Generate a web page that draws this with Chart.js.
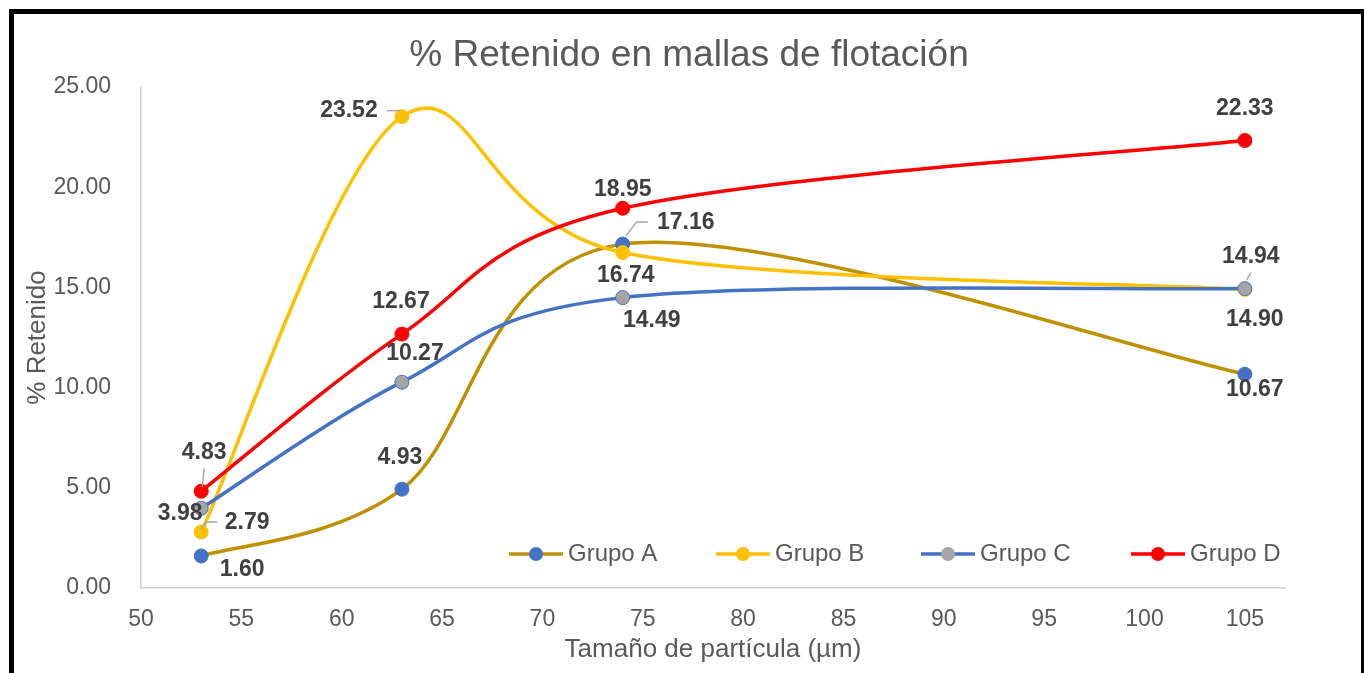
<!DOCTYPE html>
<html>
<head>
<meta charset="utf-8">
<script src="https://cdn.jsdelivr.net/npm/chart.js@4"></script>
<style>
  body { margin: 0; overflow: hidden; background: #fff; }
  #frame { position: absolute; left: 9px; top: 9px; width: 1347px; height: 700px; border: 5px solid #000; pointer-events: none; }
  canvas { position: absolute; left: 0; top: 0; }
</style>
</head>
<body>
<canvas id="chart" width="1364" height="673"></canvas>
<div id="frame"></div>
<script>
const sizes = [53, 63, 74, 105];
const grupoA = [1.60, 4.93, 17.16, 10.67];
const grupoB = [2.79, 23.52, 16.74, 14.90];
const grupoC = [3.98, 10.27, 14.49, 14.94];
const grupoD = [4.83, 12.67, 18.95, 22.33];
const seriesNames = ['Grupo A', 'Grupo B', 'Grupo C', 'Grupo D'];
const xTicks = [50, 55, 60, 65, 70, 75, 80, 85, 90, 95, 100, 105];

// label placement relative to each point: [dx, dy, leader points...]
const labelPos = [
  [[41, 14], [-2, -32], [63, -21, [[3, -8], [14, -22], [25, -22]]], [10, 15]],
  [[46, -9, [[0, -3], [5, -10], [16, -10]]], [-53, -6, [[-15, -6], [-2, -6]]], [3, 23], [10, 30]],
  [[-21, 5], [13, -29], [29, 23], [6, -32, [[2, -9], [6, -16]]]],
  [[3, -39, [[3, -23], [1, -4]]], [-1, -32], [0, -19], [0, -32]]
];
const legendX = [536, 743, 948, 1158];

const font = '"Liberation Sans", Arial, sans-serif';
const toXY = vals => vals.map((v, i) => ({x: sizes[i], y: v}));

// Excel style smoothing: control arms = (next - prev) / 6
const excelSmooth = {
  id: 'excelSmooth',
  beforeDatasetsDraw(chart) {
    chart.data.datasets.forEach((ds, di) => {
      const meta = chart.getDatasetMeta(di);
      const pts = meta.data;
      meta.dataset.updateControlPoints(chart.chartArea);
      pts.forEach((p, i) => {
        const prev = pts[Math.max(i - 1, 0)];
        const next = pts[Math.min(i + 1, pts.length - 1)];
        const dx = (next.x - prev.x) / 6;
        const dy = (next.y - prev.y) / 6;
        p.cp1x = p.x - dx; p.cp1y = p.y - dy;
        p.cp2x = p.x + dx; p.cp2y = p.y + dy;
      });
    });
  }
};

const labelsPlugin = {
  id: 'pointLabels',
  afterDatasetsDraw(chart) {
    const ctx = chart.ctx;
    ctx.save();
    ctx.fillStyle = '#595959';
    ctx.font = '37px ' + font;
    ctx.textAlign = 'center';
    ctx.textBaseline = 'middle';
    ctx.fillText('% Retenido en mallas de flotación', 689, 56);

    chart.data.datasets.forEach((ds, di) => {
      const meta = chart.getDatasetMeta(di);
      meta.data.forEach((pt, i) => {
        const pos = labelPos[di][i];
        if (pos[2]) {
          ctx.strokeStyle = '#A6A6A6';
          ctx.lineWidth = 1.5;
          ctx.beginPath();
          pos[2].forEach((p, k) => {
            if (k === 0) ctx.moveTo(pt.x + p[0], pt.y + p[1]);
            else ctx.lineTo(pt.x + p[0], pt.y + p[1]);
          });
          ctx.stroke();
        }
        ctx.fillStyle = '#404040';
        ctx.font = 'bold 23px ' + font;
        ctx.textAlign = 'center';
        ctx.textBaseline = 'middle';
        ctx.fillText(ds.data[i].y.toFixed(2), pt.x + pos[0], pt.y + pos[1]);
      });
    });
    // legend inside the plot
    const y = 554;
    chart.data.datasets.forEach((ds, di) => {
      const cx = legendX[di];
      ctx.strokeStyle = ds.borderColor;
      ctx.lineWidth = 3.5;
      ctx.beginPath();
      ctx.moveTo(cx - 27, y);
      ctx.lineTo(cx + 27, y);
      ctx.stroke();
      ctx.fillStyle = ds.pointBackgroundColor;
      ctx.beginPath();
      ctx.arc(cx, y, 7, 0, Math.PI * 2);
      ctx.fill();
      ctx.fillStyle = '#595959';
      ctx.font = '24px ' + font;
      ctx.textAlign = 'left';
      ctx.textBaseline = 'middle';
      ctx.fillText(seriesNames[di], cx + 32, y);
    });
    ctx.restore();
  }
};

new Chart(document.getElementById('chart'), {
  type: 'line',
  data: {
    datasets: [
      {
        label: seriesNames[0], data: toXY(grupoA), borderColor: '#BF9000',
        pointBackgroundColor: '#4472C4', pointBorderColor: '#4472C4', order: 4
      },
      {
        label: seriesNames[1], data: toXY(grupoB), borderColor: '#FFC000',
        pointBackgroundColor: '#FFC000', pointBorderColor: '#FFC000', order: 3
      },
      {
        label: seriesNames[2], data: toXY(grupoC), borderColor: '#4472C4',
        pointBackgroundColor: '#A5A5A5', pointBorderColor: '#4472C4', order: 2
      },
      {
        label: seriesNames[3], data: toXY(grupoD), borderColor: '#FF0000',
        pointBackgroundColor: '#FF0000', pointBorderColor: '#FF0000', order: 1
      }
    ]
  },
  options: {
    responsive: false,
    animation: false,
    devicePixelRatio: 1,
    datasets: {
      line: { borderWidth: 3.5, tension: 0.4, pointRadius: 7, pointBorderWidth: 1, fill: false }
    },
    layout: { padding: { left: 0, right: 79, top: 87, bottom: 0 } },
    plugins: {
      legend: { display: false },
      tooltip: { enabled: false },
      title: { display: false }
    },
    scales: {
      x: {
        type: 'linear',
        min: 50,
        max: 107,
        grid: { display: false },
        border: { display: true, color: '#D0D0D0', width: 1.5 },
        afterBuildTicks: scale => { scale.ticks = xTicks.map(v => ({value: v})); },
        afterFit: scale => { scale.height = 85; },
        ticks: { color: '#595959', font: { family: font, size: 23 }, padding: 10, maxRotation: 0, autoSkip: false },
        title: {
          display: true, text: 'Tamaño de partícula (µm)', color: '#595959',
          font: { family: font, size: 26 }, padding: { top: 0, bottom: 8 }
        }
      },
      y: {
        min: 0,
        max: 25,
        grid: { display: false },
        border: { display: true, color: '#D0D0D0', width: 1.5 },
        afterFit: scale => { scale.width = 141; },
        ticks: { stepSize: 5, color: '#595959', font: { family: font, size: 23 }, padding: 22, callback: v => v.toFixed(2) },
        title: {
          display: true, text: '% Retenido', color: '#595959',
          font: { family: font, size: 26 }, padding: { top: 22, bottom: 0 }
        }
      }
    }
  },
  plugins: [excelSmooth, labelsPlugin]
});
</script>
</body>
</html>
